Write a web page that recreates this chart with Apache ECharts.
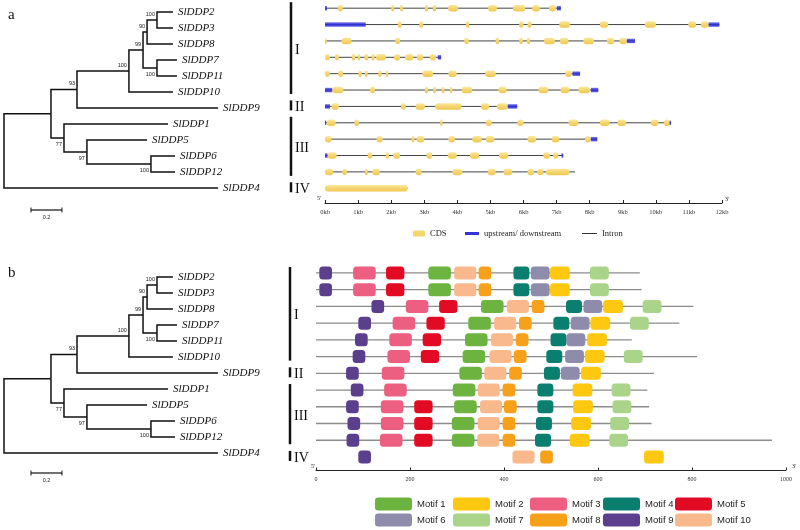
<!DOCTYPE html>
<html><head><meta charset="utf-8">
<script src="https://cdn.jsdelivr.net/npm/echarts@6/dist/echarts.min.js"></script>
<style>html,body{margin:0;padding:0;background:#fff}#c{width:800px;height:530px}</style>
</head><body><div id="c"></div>
<script>
// ---------- phylogenetic tree ----------
const leafNames = ['SlDDP2','SlDDP3','SlDDP8','SlDDP7','SlDDP11','SlDDP10','SlDDP9','SlDDP1','SlDDP5','SlDDP6','SlDDP12','SlDDP4'];
const leafDepths = [1.09,1.09,1.09,1.116,1.116,1.09,1.381,1.058,0.923,1.103,1.103,1.381];
const nodeNames = ['H','F','G','E','D','B','J','K','C','A','R'];
const nodeChildren = [['SlDDP2','SlDDP3'],['H','SlDDP8'],['SlDDP7','SlDDP11'],['F','G'],['E','SlDDP10'],['D','SlDDP9'],['SlDDP6','SlDDP12'],['SlDDP5','J'],['SlDDP1','K'],['B','C'],['A','SlDDP4']];
const nodeDepths = [0.987,0.923,0.987,0.897,0.806,0.471,0.948,0.535,0.387,0.303,0];
const bootstrapValues = [100,90,100,99,100,93,100,97,77,null,null];
const scaleBar = [0.174, 0.2];

// ---------- gene structure (kb) ----------
const geneLengths = [7.13,11.92,9.37,3.51,7.71,8.26,5.81,10.46,8.23,7.2,7.56,2.5];
const cdsSegments = [
 [[0.39,0.54],[2.0,2.09],[2.27,2.36],[3.02,3.11],[3.26,3.36],[3.72,4.02],[4.93,5.2],[5.68,6.05],[6.26,6.5],[6.77,6.98]],
 [[2.2,2.32],[2.85,2.97],[4.26,4.36],[5.87,6.0],[6.12,6.25],[7.08,7.41],[8.31,8.56],[9.67,10.0],[10.98,11.22],[11.36,11.59]],
 [[0,0.05],[0.5,0.8],[2.12,2.27],[4.21,4.35],[5.16,5.26],[5.87,5.98],[6.1,6.2],[6.62,6.95],[7.1,7.36],[7.81,8.13],[8.52,8.74],[8.9,9.12]],
 [[0,0.15],[0.3,0.42],[0.81,0.91],[0.99,1.06],[1.19,1.31],[1.41,1.49],[1.54,1.84],[2.09,2.27],[2.42,2.67],[2.77,2.97],[3.17,3.35]],
 [[0,0.15],[0.4,0.55],[1.01,1.11],[1.21,1.29],[1.61,1.71],[1.84,1.91],[2.94,3.27],[3.73,3.98],[4.84,5.16],[7.26,7.46]],
 [[0.22,0.55],[1.36,1.51],[3.02,3.12],[3.27,3.36],[3.53,3.61],[3.78,3.85],[4.13,4.45],[5.24,5.49],[6.45,6.75],[7.12,7.39],[7.66,8.01]],
 [[0.2,0.42],[2.3,2.44],[2.74,3.02],[3.33,4.13],[4.72,4.96],[5.19,5.52]],
 [[0.05,0.32],[0.89,1.03],[3.48,3.55],[4.86,5.04],[5.81,6.0],[7.36,7.66],[8.31,8.6],[8.84,9.1],[9.85,10.08],[10.25,10.41]],
 [[0,0.2],[1.56,1.74],[2.62,2.7],[2.77,3.0],[3.73,3.93],[4.45,4.74],[4.86,5.12],[6.12,6.38],[6.85,7.08],[7.86,8.03]],
 [[0.08,0.35],[1.29,1.43],[1.84,1.93],[2.06,2.27],[3.07,3.24],[3.71,3.98],[4.38,4.66],[5.26,5.54],[6.6,6.8],[6.9,7.05]],
 [[0,0.25],[0.52,0.66],[1.21,1.29],[1.43,1.66],[2.74,2.92],[3.85,4.15],[4.92,5.16],[5.39,5.66],[6.12,6.32],[6.42,6.6],[6.68,7.39]],
 [[0,2.5]]
];
const utrSegments = [
 [[0,0.06],[7.01,7.13]],
 [[0,1.23],[11.59,11.92]],
 [[9.12,9.37]],
 [[3.41,3.51]],
 [[7.48,7.71]],
 [[0,0.22],[8.04,8.26]],
 [[0,0.15],[5.52,5.81]],
 [[0,0.03],[10.41,10.46]],
 [[8.03,8.23]],
 [[0,0.08],[7.15,7.2]],
 [],
 []
];

// ---------- conserved motifs (aa) ----------
const proteinLengths = [689,693,803,773,672,811,719,705,709,714,970,null];
const motifNames = ['Motif 1','Motif 2','Motif 3','Motif 4','Motif 5','Motif 6','Motif 7','Motif 8','Motif 9','Motif 10'];
const motifColors = ['#6cb33f','#fdc80f','#ec5f80','#0b7f6f','#e30b23','#8f8bab','#a9d489','#f7a11b','#5b3f8c','#f9b98c'];
const motifWidths = [48,42,48,34,39,40,40,27,27,47];
const motif1Starts = [239,239,351,324,317,312,305,291,294,289,289,null];
const motif2Starts = [498,498,611,584,577,572,564,546,547,543,540,698];
const motif3Starts = [79,79,191,163,156,152,140,145,138,138,136,null];
const motif4Starts = [420,420,532,505,499,490,485,471,471,468,466,null];
const motif5Starts = [149,149,262,235,227,223,null,null,209,209,209,null];
const motif6Starts = [457,457,569,542,533,530,521,null,null,null,null,null];
const motif7Starts = [583,583,695,668,null,655,null,629,631,626,624,null];
const motif8Starts = [346,346,459,432,425,421,411,397,400,397,397,477];
const motif9Starts = [7,7,118,90,83,78,64,74,64,67,65,90];
const motif10Starts = [294,294,406,379,372,369,358,344,349,344,343,418];
const motifStarts = [motif1Starts,motif2Starts,motif3Starts,motif4Starts,motif5Starts,motif6Starts,motif7Starts,motif8Starts,motif9Starts,motif10Starts];

// ---------- subfamily groups ----------
const groupNames = ['I','II','III','IV'];
const groupFirstRow = [0,6,7,11];
const groupLastRow = [5,6,10,11];

// ---------- build tree geometry ----------
const yOf = {}, depthOf = {}, parentOf = {};
leafNames.forEach((n,i)=>{ yOf[n]=i; depthOf[n]=leafDepths[i]; });
nodeNames.forEach((n,i)=>{
  const [a,b] = nodeChildren[i];
  depthOf[n] = nodeDepths[i];
  yOf[n] = (yOf[a]+yOf[b])/2;
  parentOf[a] = [n,0]; parentOf[b] = [n,1];
});
const edgeData = [];
nodeNames.forEach((n,i)=>{
  nodeChildren[i].forEach(c=>edgeData.push([depthOf[n], yOf[n], depthOf[c], yOf[c]]));
});
const bootData = [];
nodeNames.forEach((n,i)=>{
  if (bootstrapValues[i]!=null) bootData.push([depthOf[n], yOf[n], bootstrapValues[i], parentOf[n] ? parentOf[n][1] : 0]);
});
const leafData = leafNames.map((n,i)=>[leafDepths[i], i]);

const SERIF = 'Liberation Serif, Times New Roman, serif';
const SANS = 'Liberation Sans, Arial, sans-serif';

function treeSeries(ax, barOffset) {
  return [
    { type:'custom', xAxisIndex:ax, yAxisIndex:ax, clip:false, silent:true, data:edgeData,
      renderItem:(p,api)=>{
        const p0=api.coord([api.value(0),api.value(1)]);
        const p1=api.coord([api.value(0),api.value(3)]);
        const p2=api.coord([api.value(2),api.value(3)]);
        return {type:'polyline', shape:{points:[p0,p1,p2]}, style:{stroke:'#111',lineWidth:1.5,fill:null}};
      }},
    { type:'custom', xAxisIndex:ax, yAxisIndex:ax, clip:false, silent:true, data:leafData,
      renderItem:(p,api)=>{
        const pt=api.coord([api.value(0),api.value(1)]);
        return {type:'text', x:pt[0]+5, y:pt[1]+0.5, style:{text:leafNames[p.dataIndex], fill:'#111',
          fontSize:11, fontStyle:'italic', fontFamily:SERIF, align:'left', verticalAlign:'middle', textAlign:'left', textVerticalAlign:'middle'}};
      }},
    { type:'custom', xAxisIndex:ax, yAxisIndex:ax, clip:false, silent:true, data:bootData,
      renderItem:(p,api)=>{
        const pt=api.coord([api.value(0),api.value(1)]);
        const below = api.value(3)===1;
        return {type:'text', x:pt[0]-2, y:pt[1]+(below?6:-6), style:{text:String(api.value(2)), fill:'#222',
          fontSize:5.5, fontFamily:SANS, align:'right', verticalAlign:'middle', textAlign:'right', textVerticalAlign:'middle'}};
      }},
    { type:'custom', xAxisIndex:ax, yAxisIndex:ax, clip:false, silent:true, data:[[scaleBar[0], leafNames.length-1, scaleBar[0]+scaleBar[1]]],
      renderItem:(p,api)=>{
        const a=api.coord([api.value(0),api.value(1)]);
        const b=api.coord([api.value(2),api.value(1)]);
        const y=a[1]+barOffset;
        return {type:'group', children:[
          {type:'line', shape:{x1:a[0],y1:y,x2:b[0],y2:y}, style:{stroke:'#111',lineWidth:1.2}},
          {type:'line', shape:{x1:a[0],y1:y-2.5,x2:a[0],y2:y+2.5}, style:{stroke:'#111',lineWidth:1}},
          {type:'line', shape:{x1:b[0],y1:y-2.5,x2:b[0],y2:y+2.5}, style:{stroke:'#111',lineWidth:1}},
          {type:'text', x:(a[0]+b[0])/2, y:y+7, style:{text:String(scaleBar[1]), fill:'#222', fontSize:5.5, fontFamily:SANS,
            align:'center', verticalAlign:'middle', textAlign:'center', textVerticalAlign:'middle'}}
        ]};
      }}
  ];
}

function groupSeries(ax, offset) {
  return { type:'custom', xAxisIndex:ax, yAxisIndex:ax, clip:false, silent:true,
    data: groupNames.map((g,i)=>[0, groupFirstRow[i], groupLastRow[i]]),
    renderItem:(p,api)=>{
      const t=api.coord([0,api.value(1)]), b=api.coord([0,api.value(2)]);
      const x=t[0]+offset;
      return {type:'group', children:[
        {type:'line', shape:{x1:x,y1:t[1]-6,x2:x,y2:b[1]+4}, style:{stroke:'#111',lineWidth:2.5}},
        {type:'text', x:x+4, y:(t[1]+b[1])/2+1, style:{text:groupNames[p.dataIndex], fill:'#111', fontSize:14, fontFamily:SERIF,
          align:'left', verticalAlign:'middle', textAlign:'left', textVerticalAlign:'middle'}}
      ]};
    }};
}

function segRender(h, r, fill) {
  return (p,api)=>{
    const a=api.coord([api.value(0),api.value(1)]);
    const b=api.coord([api.value(2),api.value(1)]);
    return {type:'rect', shape:{x:a[0], y:a[1]-h/2, width:Math.max(b[0]-a[0],1.2), height:h, r:r}, style:{fill:fill}};
  };
}

const cdsData=[], utrData=[], intronData=[];
cdsSegments.forEach((segs,row)=>segs.forEach(s=>cdsData.push([s[0],row,s[1]])));
utrSegments.forEach((segs,row)=>segs.forEach(s=>utrData.push([s[0],row,s[1]])));
geneLengths.forEach((L,row)=>intronData.push([0,row,L]));

const cdsFill = new echarts.graphic.LinearGradient(0,0,0,1,[{offset:0,color:'#fae7a0'},{offset:0.5,color:'#f5d56e'},{offset:1,color:'#efc850'}]);
const utrFill = new echarts.graphic.LinearGradient(0,0,0,1,[{offset:0,color:'#7f7ff0'},{offset:0.5,color:'#2f2fd0'},{offset:1,color:'#6a6ae8'}]);

const series = [];
series.push(...treeSeries(0, 22));
series.push(...treeSeries(2, 20));
series.push(groupSeries(1, -34));
series.push(groupSeries(3, -26));
series.push({ name:'Intron', type:'custom', xAxisIndex:1, yAxisIndex:1, clip:false, data:intronData, itemStyle:{color:'#333'},
  renderItem:(p,api)=>{
    const a=api.coord([api.value(0),api.value(1)]), b=api.coord([api.value(2),api.value(1)]);
    return {type:'line', shape:{x1:a[0],y1:a[1],x2:b[0],y2:b[1]}, style:{stroke:'#444',lineWidth:1}};
  }});
series.push({ name:'upstream/ downstream', type:'custom', xAxisIndex:1, yAxisIndex:1, clip:false, data:utrData,
  itemStyle:{color:'#3434d4'}, renderItem:segRender(4.5,0,utrFill)});
series.push({ name:'CDS', type:'custom', xAxisIndex:1, yAxisIndex:1, clip:false, data:cdsData,
  itemStyle:{color:'#f5d56e'}, renderItem:segRender(6.5,3,cdsFill)});

const protData = [];
proteinLengths.forEach((L,row)=>{ if (L!=null) protData.push([0,row,L]); });
series.push({ type:'custom', xAxisIndex:3, yAxisIndex:3, clip:false, silent:true, data:protData,
  renderItem:(p,api)=>{
    const a=api.coord([api.value(0),api.value(1)]), b=api.coord([api.value(2),api.value(1)]);
    return {type:'line', shape:{x1:a[0],y1:a[1],x2:b[0],y2:b[1]}, style:{stroke:'#8c8c8c',lineWidth:1.3}};
  }});
motifNames.forEach((m,k)=>{
  const d=[];
  motifStarts[k].forEach((s,row)=>{ if (s!=null) d.push([s,row,s+motifWidths[k]]); });
  series.push({ name:m, type:'custom', xAxisIndex:3, yAxisIndex:3, clip:false, data:d,
    itemStyle:{color:motifColors[k]}, renderItem:segRender(13,3.5,motifColors[k])});
});

const motifLegendCols = [[0,5],[1,6],[2,7],[3,8],[4,9]];
const motifLegendLeft = [375,453,530,603,675];
const legends = [
  {data:[{name:'CDS',icon:'roundRect'}], left:413, top:229, itemWidth:12, itemHeight:6},
  {data:[{name:'upstream/ downstream',icon:'rect'}], left:465, top:229, itemWidth:14, itemHeight:3},
  {data:[{name:'Intron',icon:'rect'}], left:582, top:229, itemWidth:15, itemHeight:1}
].map(l=>Object.assign(l,{padding:0, selectedMode:false, textStyle:{fontFamily:SERIF,fontSize:8.5,color:'#222'}}));
motifLegendCols.forEach((c,i)=>{
  legends.push({orient:'vertical', left:motifLegendLeft[i], top:497.5, padding:0, itemGap:3, itemWidth:37, itemHeight:13,
    selectedMode:false, data:c.map(k=>({name:motifNames[k],icon:'roundRect'})),
    textStyle:{fontFamily:SANS, fontSize:9.5, color:'#222'}});
});

const hiddenY = (min,max)=>({type:'value', inverse:true, min:min, max:max, show:false});
const option = {
  animation:false,
  backgroundColor:'#fff',
  grid:[
    {left:4, top:4, width:232.5, height:192},
    {left:325, top:0, width:397, height:203},
    {left:4, top:269, width:232.5, height:192},
    {left:316, top:264.6, width:470, height:205.4}
  ],
  xAxis:[
    {gridIndex:0, type:'value', min:0, max:1.5, show:false},
    {gridIndex:1, type:'value', min:0, max:12, interval:1, position:'bottom',
      axisLine:{onZero:false, lineStyle:{color:'#222',width:1}}, axisTick:{inside:true,length:3,lineStyle:{color:'#222'}},
      splitLine:{show:false}, axisLabel:{formatter:v=>v+'kb', fontSize:6.5, fontFamily:SERIF, color:'#333', margin:6}},
    {gridIndex:2, type:'value', min:0, max:1.5, show:false},
    {gridIndex:3, type:'value', min:0, max:1000, interval:200, position:'bottom',
      axisLine:{onZero:false, lineStyle:{color:'#222',width:1}}, axisTick:{inside:true,length:2.5,lineStyle:{color:'#222'}},
      splitLine:{show:false}, axisLabel:{formatter:v=>String(v), fontSize:6, fontFamily:SERIF, color:'#333', margin:6}}
  ],
  yAxis:[
    Object.assign(hiddenY(-0.5,11.5),{gridIndex:0}),
    Object.assign(hiddenY(-0.5,11.9),{gridIndex:1}),
    Object.assign(hiddenY(-0.5,11.5),{gridIndex:2}),
    Object.assign(hiddenY(-0.5,11.78),{gridIndex:3})
  ],
  legend:legends,
  graphic:[
    {type:'text', left:8, top:8, style:{text:'a', font:'15px '+SERIF, fill:'#111'}},
    {type:'text', left:8, top:266, style:{text:'b', font:'15px '+SERIF, fill:'#111'}},
    {type:'text', left:317, top:195, style:{text:"5'", font:'6px '+SERIF, fill:'#222'}},
    {type:'text', left:725, top:196, style:{text:"3'", font:'6px '+SERIF, fill:'#222'}},
    {type:'text', left:311, top:463, style:{text:"5'", font:'6px '+SERIF, fill:'#222'}},
    {type:'text', left:792, top:463, style:{text:"3'", font:'6px '+SERIF, fill:'#222'}}
  ],
  series:series
};
const chart = echarts.init(document.getElementById('c'));
chart.setOption(option);
</script></body></html>
